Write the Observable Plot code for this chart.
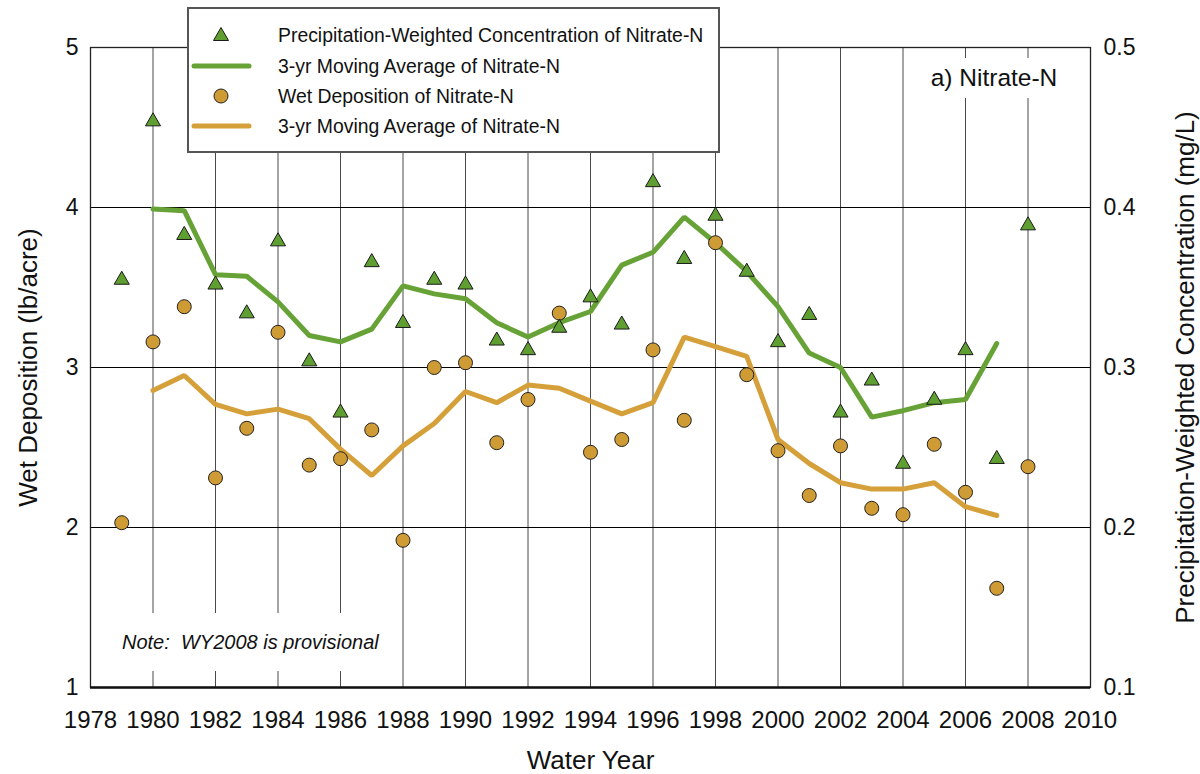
<!DOCTYPE html>
<html>
<head>
<meta charset="utf-8">
<script src="https://cdn.jsdelivr.net/npm/d3@7"></script>
<script src="https://cdn.jsdelivr.net/npm/@observablehq/plot@0.6"></script>
<style>
  body { margin: 0; background: #fff; }
  #wrap { position: relative; width: 1200px; height: 774px; font-family: Arial, "Liberation Sans", sans-serif; color: #111; }
  #wrap svg { position: absolute; left: 0; top: 0; }
  .box { position: absolute; background: #fff; }
  #legend { left: 187px; top: 7px; width: 533px; height: 146px; box-sizing: border-box; border: 2px solid #555; }
  .row { position: absolute; left: 0; height: 30px; width: 100%; }
  .row svg { position: absolute; left: 12px; top: 0; }
  .row span { position: absolute; left: 89px; top: 50%; transform: translateY(-50%); font-size: 19.4px; white-space: nowrap; }
  #panel { left: 912px; top: 58px; width: 164px; height: 40px; font-size: 24.5px; line-height: 40px; text-align: center; }
  #note { left: 100px; top: 613px; width: 295px; height: 58px; font-size: 20px; font-style: italic; line-height: 58px; white-space: pre; text-indent: 22px; }
</style>
</head>
<body>
<div id="wrap"></div>
<script>
// ---- data ----
const years = [1979,1980,1981,1982,1983,1984,1985,1986,1987,1988,1989,1990,1991,1992,1993,1994,1995,1996,1997,1998,1999,2000,2001,2002,2003,2004,2005,2006,2007,2008];
// Precipitation-weighted concentration of nitrate-N (mg/L)
const concentration = [0.356,0.455,0.384,0.353,0.335,0.380,0.305,0.273,0.367,0.329,0.356,0.353,0.318,0.312,0.326,0.345,0.328,0.417,0.369,0.396,0.361,0.317,0.334,0.273,0.293,0.241,0.281,0.312,0.244,0.390];
// Wet deposition of nitrate-N (lb/acre)
const wetDeposition = [2.03,3.16,3.38,2.31,2.62,3.22,2.39,2.43,2.61,1.92,3.00,3.03,2.53,2.80,3.34,2.47,2.55,3.11,2.67,3.78,2.955,2.48,2.20,2.51,2.12,2.08,2.52,2.22,1.62,2.38];
// 3-yr moving averages
const avgYears = [1980,1981,1982,1983,1984,1985,1986,1987,1988,1989,1990,1991,1992,1993,1994,1995,1996,1997,1998,1999,2000,2001,2002,2003,2004,2005,2006,2007];
const concentrationAvg = [0.399,0.398,0.358,0.357,0.341,0.320,0.316,0.324,0.351,0.346,0.343,0.328,0.319,0.328,0.335,0.364,0.372,0.394,0.378,0.360,0.338,0.309,0.300,0.269,0.273,0.278,0.280,0.315];
const depositionAvg = [2.856,2.95,2.77,2.71,2.74,2.68,2.49,2.325,2.51,2.65,2.85,2.78,2.89,2.87,2.79,2.71,2.78,3.19,3.13,3.07,2.55,2.40,2.28,2.24,2.24,2.28,2.13,2.075];

const xTicks = [1978,1980,1982,1984,1986,1988,1990,1992,1994,1996,1998,2000,2002,2004,2006,2008,2010];
const gridYears = [1980,1982,1984,1986,1988,1990,1992,1994,1996,1998,2000,2002,2004,2006,2008];
const leftTicks = [1,2,3,4,5];
const leftTickLabels = ["1","2","3","4","5"];
const rightTickLabels = ["0.1","0.2","0.3","0.4","0.5"];
const gridValues = [2,3,4];

const legendLabels = [
  "Precipitation-Weighted Concentration of Nitrate-N",
  "3-yr Moving Average of Nitrate-N",
  "Wet Deposition of Nitrate-N",
  "3-yr Moving Average of Nitrate-N"
];
const titles = { left: "Wet Deposition (lb/acre)", right: "Precipitation-Weighted Concentration (mg/L)", x: "Water Year", panel: "a) Nitrate-N", note: "Note:  WY2008 is provisional" };

const green = "#5f9e30", greenLine = "#66a236", orange = "#cf9b34", orangeLine = "#d5a03a";

// ---- tables ----
const points = years.map((yr, i) => ({ year: yr, dep: wetDeposition[i], conc: concentration[i] }));
const averages = avgYears.map((yr, i) => ({ year: yr, dep: depositionAvg[i], conc: concentrationAvg[i] }));

const chart = Plot.plot({
  width: 1200, height: 774,
  marginLeft: 90, marginRight: 110, marginTop: 47, marginBottom: 87,
  x: { domain: [1978, 2010] },
  y: { domain: [1, 5] },
  style: { fontFamily: "Arial, 'Liberation Sans', sans-serif", color: "#111", background: "transparent" },
  marks: [
    Plot.gridX(gridYears, { stroke: "#4a4a4a", strokeOpacity: 1, strokeWidth: 1 }),
    Plot.gridY(gridValues, { stroke: "#000", strokeOpacity: 1, strokeWidth: 1 }),
    Plot.frame({ stroke: "#222", strokeWidth: 1.3 }),
    Plot.ruleY([1], { stroke: "#111", strokeWidth: 2.5 }),
    Plot.axisX(xTicks, { tickSize: 0, tickPadding: 23, fontSize: 24, tickFormat: d => String(d), label: null }),
    Plot.axisY(leftTicks, { anchor: "left", tickSize: 0, tickPadding: 12, fontSize: 23, tickFormat: (d, i) => leftTickLabels[i], label: null }),
    Plot.axisY(leftTicks, { anchor: "right", tickSize: 0, tickPadding: 13, fontSize: 23, tickFormat: (d, i) => rightTickLabels[i], label: null }),
    Plot.text([titles.left], { frameAnchor: "left", dx: -62, rotate: -90, fontSize: 26, textAnchor: "middle", lineAnchor: "middle", fill: "#111" }),
    Plot.text([titles.right], { frameAnchor: "right", dx: 95, rotate: -90, fontSize: 26, textAnchor: "middle", lineAnchor: "middle", fill: "#111" }),
    Plot.text([titles.x], { frameAnchor: "bottom", dy: 73, fontSize: 26, textAnchor: "middle", lineAnchor: "middle", fill: "#111" }),
    Plot.line(averages, { x: "year", y: d => d.conc * 10, stroke: greenLine, strokeWidth: 5, strokeLinejoin: "miter", strokeLinecap: "round" }),
    Plot.line(averages, { x: "year", y: "dep", stroke: orangeLine, strokeWidth: 5, strokeLinejoin: "miter", strokeLinecap: "round" }),
    Plot.dot(points, { x: "year", y: "dep", r: 7, fill: orange, stroke: "#222", strokeWidth: 1 }),
    Plot.dot(points, { x: "year", y: d => d.conc * 10, symbol: "triangle", r: 5.6, dy: 2, fill: green, stroke: "#1a1a1a", strokeWidth: 1 })
  ]
});

const wrap = document.getElementById("wrap");
wrap.appendChild(chart);

// annotation boxes (white backgrounds like the original)
const panel = document.createElement("div");
panel.className = "box"; panel.id = "panel"; panel.textContent = titles.panel;
wrap.appendChild(panel);
const note = document.createElement("div");
note.className = "box"; note.id = "note"; note.textContent = titles.note;
wrap.appendChild(note);

// legend
const legend = document.createElement("div");
legend.className = "box"; legend.id = "legend";
const kinds = ["triangle", "greenLine", "circle", "orangeLine"];
const rowCenters = [26, 57, 87, 117];
kinds.forEach((k, i) => {
  const row = document.createElement("div");
  row.className = "row";
  row.style.top = (rowCenters[i] - 15) + "px";
  let sym = "";
  if (k === "triangle") sym = `<polygon points="32,7.5 39.5,20.5 24.5,20.5" fill="${green}" stroke="#1a1a1a" stroke-width="1"/>`;
  if (k === "circle") sym = `<circle cx="32" cy="15" r="7" fill="${orange}" stroke="#222" stroke-width="1"/>`;
  if (k === "greenLine") sym = `<line x1="5" y1="15" x2="60" y2="15" stroke="${greenLine}" stroke-width="5" stroke-linecap="round"/>`;
  if (k === "orangeLine") sym = `<line x1="5" y1="15" x2="60" y2="15" stroke="${orangeLine}" stroke-width="5" stroke-linecap="round"/>`;
  row.innerHTML = `<svg width="66" height="30">${sym}</svg><span>${legendLabels[i]}</span>`;
  legend.appendChild(row);
});
wrap.appendChild(legend);
</script>
</body>
</html>
